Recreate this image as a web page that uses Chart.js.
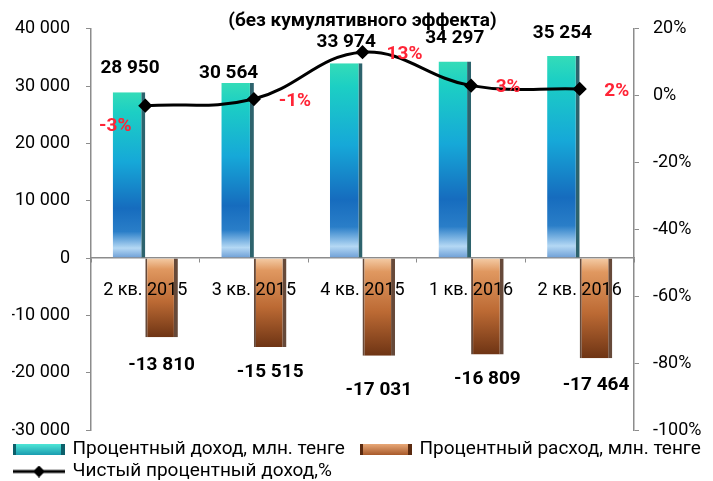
<!DOCTYPE html>
<html>
<head>
<meta charset="utf-8">
<script src="https://cdn.jsdelivr.net/npm/chart.js@4.4.1/dist/chart.umd.min.js"></script>
<style>
  html, body { margin: 0; padding: 0; background: #fff; }
  #wrap { width: 713px; height: 481px; }
</style>
</head>
<body>
<div id="wrap"><canvas id="chart"></canvas></div>
<script>
// данные (млн. тенге, %)
const quarters = ["2 кв. 2015", "3 кв. 2015", "4 кв. 2015", "1 кв. 2016", "2 кв. 2016"];
const incomeValues = [28950, 30564, 33974, 34297, 35254];
const expenseValues = [-13810, -15515, -17031, -16809, -17464];
const netChange = [-3, -1, 13, 3, 2];
const leftTicks = [-30000, -20000, -10000, 0, 10000, 20000, 30000, 40000];
const rightTicks = [-100, -80, -60, -40, -20, 0, 20];

// сдвиги подписей (px), как в исходной диаграмме
const incomeNudge = [[1, -24], [-9, -10], [0, -21], [0, -23], [-1, -23]];
const expenseNudge = [[0, 28], [0, 25], [0, 35], [0, 25], [0, 27]];
const pctNudge = [[-30, 21], [41, 2], [42, 2], [37, 2], [37, 2]];

const FONT = "Roboto, 'Liberation Sans', sans-serif";

const fmt = v => String(v).replace(/\B(?=(\d{3})+(?!\d))/g, " ");

function incomeFill(c) {
  const chart = c.chart;
  if (!chart.chartArea || !c.parsed) return "#22c4d0";
  const y = chart.scales.y;
  const top = y.getPixelForValue(c.parsed.y);
  const base = y.getPixelForValue(0);
  const g = chart.ctx.createLinearGradient(0, top, 0, base);
  g.addColorStop(0, "#34dcb8");
  g.addColorStop(0.12, "#1ccfc4");
  g.addColorStop(0.42, "#16a8d8");
  g.addColorStop(0.7, "#166cbe");
  g.addColorStop(0.84, "#2a7ec8");
  g.addColorStop(0.94, "#b4d8f4");
  g.addColorStop(1, "#6c9ed6");
  return g;
}

function expenseFill(c) {
  const chart = c.chart;
  if (!chart.chartArea || !c.parsed) return "#b06434";
  const y = chart.scales.y;
  const base = y.getPixelForValue(0);
  const bottom = y.getPixelForValue(c.parsed.y);
  const g = chart.ctx.createLinearGradient(0, base, 0, bottom);
  g.addColorStop(0, "#f4cca6");
  g.addColorStop(0.14, "#e09860");
  g.addColorStop(0.55, "#bc6a34");
  g.addColorStop(1, "#6e3414");
  return g;
}

// значки легенды
function swatch(c1, c2, edge) {
  const cv = document.createElement("canvas");
  cv.width = 52; cv.height = 11;
  const x = cv.getContext("2d");
  const g = x.createLinearGradient(0, 0, 0, 11);
  g.addColorStop(0, c1);
  g.addColorStop(1, c2);
  x.fillStyle = g;
  x.fillRect(0, 0, 52, 11);
  x.fillStyle = edge;
  x.fillRect(0, 0, 3, 11);
  x.fillRect(48, 0, 4, 11);
  return cv;
}
function lineMark() {
  const cv = document.createElement("canvas");
  cv.width = 52; cv.height = 12;
  const x = cv.getContext("2d");
  x.strokeStyle = "#000"; x.lineWidth = 3;
  x.beginPath(); x.moveTo(0, 6); x.lineTo(52, 6); x.stroke();
  x.fillStyle = "#000";
  x.beginPath(); x.moveTo(26, 0); x.lineTo(32, 6); x.lineTo(26, 12); x.lineTo(20, 6); x.closePath(); x.fill();
  return cv;
}

const valueLabels = {
  id: "valueLabels",
  afterDatasetsDraw(chart) {
    const ctx = chart.ctx;
    ctx.save();
    ctx.textAlign = "center";
    ctx.textBaseline = "middle";
    ctx.font = "bold 19px " + FONT;
    ctx.fillStyle = "#000";
    chart.getDatasetMeta(0).data.forEach((bar, i) => {
      ctx.fillText(fmt(incomeValues[i]), bar.x + incomeNudge[i][0], bar.y + incomeNudge[i][1]);
    });
    chart.getDatasetMeta(1).data.forEach((bar, i) => {
      ctx.fillText(fmt(expenseValues[i]), bar.x + expenseNudge[i][0], bar.y + expenseNudge[i][1]);
    });
    ctx.fillStyle = "#ff2436";
    chart.getDatasetMeta(2).data.forEach((pt, i) => {
      ctx.fillText(netChange[i] + "%", pt.x + pctNudge[i][0], pt.y + pctNudge[i][1]);
    });
    ctx.restore();
  }
};

const axisGray = "#8c8c8c";

new Chart(document.getElementById("chart"), {
  type: "bar",
  data: {
    labels: quarters,
    datasets: [
      {
        label: "Процентный доход, млн. тенге",
        data: incomeValues,
        yAxisID: "y",
        backgroundColor: incomeFill,
        borderColor: "rgba(8,72,84,0.85)",
        borderWidth: { left: 0, right: 4, top: 0, bottom: 0 },
        borderSkipped: false,
        order: 1
      },
      {
        label: "Процентный расход, млн. тенге",
        data: expenseValues,
        yAxisID: "y",
        backgroundColor: expenseFill,
        borderColor: "rgba(64,28,8,0.8)",
        borderWidth: { left: 2, right: 4, top: 0, bottom: 0 },
        borderSkipped: false,
        order: 1
      },
      {
        type: "line",
        label: "Чистый процентный доход,%",
        data: netChange,
        yAxisID: "y1",
        borderColor: "#000",
        borderWidth: 3,
        tension: 0.4,
        pointStyle: "rectRot",
        pointRadius: 5,
        pointBackgroundColor: "#000",
        pointBorderColor: "#000",
        order: 0
      }
    ]
  },
  options: {
    responsive: true,
    maintainAspectRatio: false,
    animation: false,
    layout: { padding: { left: 12, right: 0, top: 0, bottom: 0 } },
    datasets: {
      bar: { categoryPercentage: 0.6, barPercentage: 1 }
    },
    scales: {
      x: {
        position: { y: 0 },
        offset: true,
        grid: { drawOnChartArea: false, offset: true, tickLength: 4, color: axisGray },
        border: { color: axisGray, width: 1.5 },
        ticks: { z: 1, color: "#000", font: { family: FONT, size: 18 }, padding: 18, maxRotation: 0 }
      },
      y: {
        position: "left",
        min: -30000,
        max: 40000,
        afterBuildTicks: s => { s.ticks = leftTicks.map(v => ({ value: v })); },
        afterFit: s => { s.width = 79; },
        grid: { drawOnChartArea: false, tickLength: 5, color: axisGray },
        border: { color: axisGray, width: 1.5 },
        ticks: { color: "#000", font: { family: FONT, size: 18 }, padding: 16, callback: v => fmt(v) }
      },
      y1: {
        position: "right",
        min: -100,
        max: 20,
        afterBuildTicks: s => { s.ticks = rightTicks.map(v => ({ value: v })); },
        afterFit: s => { s.width = 79; },
        grid: { drawOnChartArea: false, tickLength: 5, color: axisGray },
        border: { color: axisGray, width: 1.5 },
        ticks: { color: "#000", font: { family: FONT, size: 18 }, padding: 14, callback: v => v + "%" }
      }
    },
    plugins: {
      tooltip: { enabled: false },
      title: {
        display: true,
        text: "(без кумулятивного эффекта)",
        color: "#000",
        font: { family: FONT, size: 19, weight: "bold" },
        padding: { top: 10, bottom: -4 }
      },
      legend: {
        position: "bottom",
        align: "start",
        maxHeight: 51,
        title: { display: true, text: " ", font: { size: 5, lineHeight: 1.4 }, padding: 0 },
        labels: {
          usePointStyle: true,
          pointStyleWidth: 48,
          padding: 3,
          color: "#000",
          font: { family: FONT, size: 19 },
          generateLabels: () => [
            { text: "Процентный доход, млн. тенге   ", pointStyle: swatch("#4ee6d6", "#1a9cb0", "#0c5f6a"), fontColor: "#000", lineWidth: 0, datasetIndex: 0, hidden: false },
            { text: "Процентный расход, млн. тенге", pointStyle: swatch("#e8a878", "#a85a2a", "#5a2a10"), fontColor: "#000", lineWidth: 0, datasetIndex: 1, hidden: false },
            { text: "Чистый процентный доход,%", pointStyle: lineMark(), fontColor: "#000", lineWidth: 0, datasetIndex: 2, hidden: false }
          ]
        }
      }
    }
  },
  plugins: [valueLabels]
});
</script>
</body>
</html>
